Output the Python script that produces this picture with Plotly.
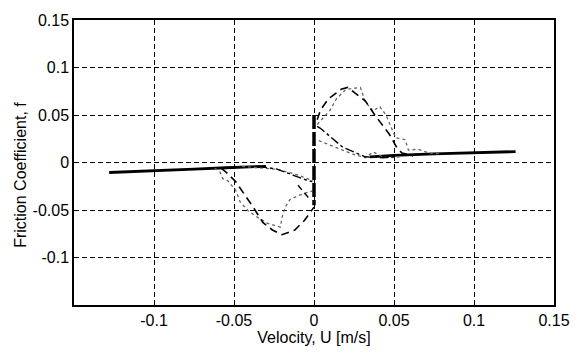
import plotly.graph_objects as go

# ---- data ----
U_solid_neg = [-0.128, -0.1, -0.075, -0.055, -0.04, -0.03]
f_solid_neg = [-0.0105, -0.009, -0.007, -0.0055, -0.0045, -0.004]
U_solid_pos = [0.035, 0.05, 0.075, 0.1, 0.126]
f_solid_pos = [0.006, 0.0075, 0.009, 0.010, 0.0115]

U_model_up = [0.002, 0.004, 0.009, 0.017, 0.021, 0.032, 0.038, 0.047, 0.052, 0.055, 0.062]
f_model_up = [0.045, 0.055, 0.067, 0.077, 0.079, 0.065, 0.050, 0.030, 0.015, 0.010, 0.007]
U_model_dn = [-0.058, -0.055, -0.049, -0.043, -0.038, -0.032, -0.026, -0.020, -0.012, -0.006, -0.001, 0.0]
f_model_dn = [-0.006, -0.010, -0.020, -0.034, -0.047, -0.063, -0.071, -0.076, -0.071, -0.061, -0.050, -0.047]

U_ret_pos = [0.002, 0.004, 0.018, 0.032, 0.043, 0.05]
f_ret_pos = [0.038, 0.036, 0.016, 0.006, 0.005, 0.006]
U_ret_neg = [-0.035, -0.023, -0.012, -0.004, -0.001]
f_ret_neg = [-0.004, -0.007, -0.014, -0.019, -0.020]
U_ret_neg2 = [-0.010, -0.002]
f_ret_neg2 = [-0.024, -0.040]

U_meas_up = [0.002, 0.010, 0.014, 0.020, 0.029, 0.032, 0.037, 0.041, 0.045, 0.048, 0.051, 0.057, 0.059, 0.065, 0.072, 0.08]
f_meas_up = [0.040, 0.055, 0.067, 0.077, 0.079, 0.064, 0.054, 0.059, 0.050, 0.038, 0.026, 0.024, 0.013, 0.014, 0.010, 0.009]
U_meas_lo = [0.003, 0.014, 0.024, 0.032, 0.037, 0.043, 0.047, 0.055]
f_meas_lo = [0.023, 0.016, 0.009, 0.005, 0.011, 0.006, 0.005, 0.006]
U_meas_dn = [-0.062, -0.059, -0.057, -0.054, -0.049, -0.046, -0.041, -0.035, -0.029, -0.021, -0.020, -0.018, -0.015, -0.010, -0.005, -0.001]
f_meas_dn = [-0.006, -0.009, -0.017, -0.019, -0.029, -0.042, -0.051, -0.058, -0.064, -0.068, -0.058, -0.047, -0.039, -0.035, -0.032, -0.030]
U_meas_nu = [-0.045, -0.038, -0.024, -0.012, -0.004, -0.001]
f_meas_nu = [-0.004, -0.005, -0.007, -0.012, -0.017, -0.019]

U_vert = [0.0, 0.0]
f_vert = [0.05, -0.045]

x_ticks = [-0.1, -0.05, 0, 0.05, 0.1, 0.15]
x_labels = ["-0.1", "-0.05", "0", "0.05", "0.1", "0.15"]
y_ticks = [-0.1, -0.05, 0, 0.05, 0.1, 0.15]
y_labels = ["-0.1", "-0.05", "0", "0.05", "0.1", "0.15"]

fig = go.Figure()

def add(x, y, color="black", width=1.5, dash="solid"):
    fig.add_trace(go.Scatter(x=x, y=y, mode="lines", showlegend=False,
                             line=dict(color=color, width=width, dash=dash)))

add(U_solid_neg, f_solid_neg, width=2.8)
add(U_solid_pos, f_solid_pos, width=2.8)
add(U_meas_up, f_meas_up, color="#666666", width=1.3, dash="dot")
add(U_meas_lo, f_meas_lo, color="#666666", width=1.3, dash="dot")
add(U_meas_dn, f_meas_dn, color="#666666", width=1.3, dash="dot")
add(U_meas_nu, f_meas_nu, color="#666666", width=1.3, dash="dot")
add(U_model_up, f_model_up, width=1.6, dash="8px,5px")
add(U_model_dn, f_model_dn, width=1.6, dash="8px,5px")
add(U_ret_pos, f_ret_pos, width=1.4, dash="dashdot")
add(U_ret_neg, f_ret_neg, width=1.4, dash="dashdot")
add(U_ret_neg2, f_ret_neg2, width=1.4, dash="6px,4px")
add(U_vert, f_vert, width=3.5, dash="14px,3px")

font = dict(family="Liberation Sans, Arial", size=16, color="black")

axis_common = dict(
    showgrid=True, gridcolor="black", gridwidth=1.4, griddash="5px,3px",
    zeroline=False, showline=True, linecolor="black", linewidth=1.5, mirror=True,
    ticks="", tickfont=font,
)

fig.update_xaxes(range=[-0.15, 0.15], tickvals=x_ticks, ticktext=x_labels,
                 title=dict(text="Velocity, U [m/s]", standoff=1, font=font),
                 **axis_common)
fig.update_yaxes(range=[-0.15, 0.15], tickvals=y_ticks, ticktext=y_labels, **axis_common)

fig.add_annotation(text="Friction Coefficient, f", textangle=-90, xref="paper", yref="paper",
                   x=0, y=0.455, xshift=-64, showarrow=False, font=font)

fig.update_layout(width=582, height=353, margin=dict(l=74, r=16, t=12, b=39),
                  paper_bgcolor="white", plot_bgcolor="white")

fig.write_html("out.html")
